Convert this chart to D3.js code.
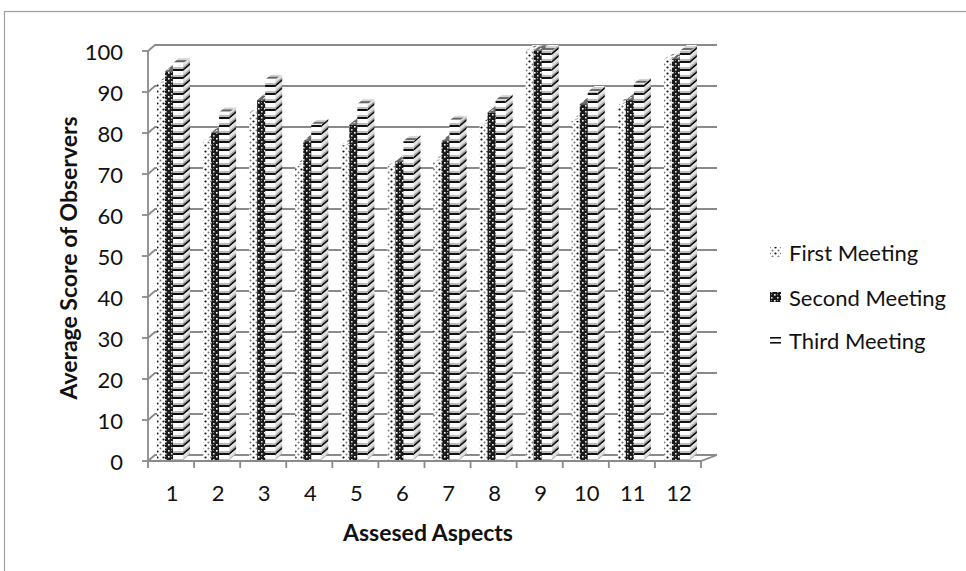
<!DOCTYPE html>
<html>
<head>
<meta charset="utf-8">
<script src="https://cdn.jsdelivr.net/npm/d3@7"></script>
<style>
  html, body { margin: 0; padding: 0; background: #fff; }
  svg { display: block; }
  text { font-family: Lato, "Open Sans", sans-serif; fill: #111; }
</style>
</head>
<body>
<svg id="chart" width="966" height="571"></svg>
<script>
// Average observer scores for each assessed aspect, per meeting
const categories = ["1", "2", "3", "4", "5", "6", "7", "8", "9", "10", "11", "12"];
const seriesNames = ["First Meeting", "Second Meeting", "Third Meeting"];
const firstMeeting  = [92, 78, 85, 72, 77, 72, 73, 82, 100, 83, 87, 98];
const secondMeeting = [95, 80, 88, 78, 82, 73, 78, 85, 100, 87, 88, 98];
const thirdMeeting  = [97, 85, 93, 82, 87, 78, 83, 88, 100, 90, 92, 100];
const yTicks = [0, 10, 20, 30, 40, 50, 60, 70, 80, 90, 100];

const seriesValues = [firstMeeting, secondMeeting, thirdMeeting];
const patternIds = ["pDots", "pCheck", "pLines"];
const legendPatternIds = ["pDots", "pCheck", "pLinesSmall"];

const svg = d3.select("#chart");
const W = 966, H = 571;

// 3D depth offsets of the plot box and of each column
const wallDX = 7, wallDY = 6;
const barDX = 7, barDY = 6;
const barW = 10;

const x = d3.scaleBand().domain(categories).range([148, 701]);
const xs = d3.scalePoint().domain(seriesNames).range([9, 25]);
const y = d3.scaleLinear().domain([0, 100]).range([461, 51]);

svg.append("rect").attr("width", W).attr("height", H).attr("fill", "#fff");

// outer chart frame
svg.append("rect")
  .attr("x", 4.5).attr("y", 11.5)
  .attr("width", W + 20).attr("height", H + 20)
  .attr("fill", "none").attr("stroke", "#a0a0a0").attr("stroke-width", 1.2);

// ---------- fill patterns ----------
const defs = svg.append("defs");

const pd = defs.append("pattern").attr("id", "pDots")
  .attr("patternUnits", "userSpaceOnUse").attr("width", 6).attr("height", 6);
pd.append("rect").attr("width", 6).attr("height", 6).attr("fill", "#fff");
pd.append("circle").attr("cx", 1.5).attr("cy", 1.5).attr("r", 1.1).attr("fill", "#111");
pd.append("circle").attr("cx", 4.5).attr("cy", 4.5).attr("r", 1.0).attr("fill", "#777");

const pc = defs.append("pattern").attr("id", "pCheck")
  .attr("patternUnits", "userSpaceOnUse").attr("width", 6).attr("height", 6);
pc.append("rect").attr("width", 6).attr("height", 6).attr("fill", "#1a1a1a");
pc.append("rect").attr("x", 0).attr("y", 0).attr("width", 1.6).attr("height", 1.6).attr("fill", "#fff");
pc.append("rect").attr("x", 3).attr("y", 3).attr("width", 1.6).attr("height", 1.6).attr("fill", "#ddd");
pc.append("rect").attr("x", 3).attr("y", 0).attr("width", 1).attr("height", 1).attr("fill", "#888");

const pl = defs.append("pattern").attr("id", "pLines")
  .attr("patternUnits", "userSpaceOnUse").attr("width", 8).attr("height", 8);
pl.append("rect").attr("width", 8).attr("height", 8).attr("fill", "#fff");
pl.append("rect").attr("y", 3).attr("width", 8).attr("height", 2).attr("fill", "#bbb");
pl.append("rect").attr("y", 5).attr("width", 8).attr("height", 2).attr("fill", "#111");

const pls = defs.append("pattern").attr("id", "pLinesSmall")
  .attr("patternUnits", "userSpaceOnUse").attr("width", 5).attr("height", 5);
pls.append("rect").attr("width", 5).attr("height", 5).attr("fill", "#fff");
pls.append("rect").attr("y", 2).attr("width", 5).attr("height", 1.6).attr("fill", "#111");

// ---------- walls, floor and gridlines ----------
const grid = svg.append("g").attr("fill", "none").attr("stroke", "#8a8a8a").attr("stroke-width", 1.8);
const wallRight = 717;

yTicks.forEach(t => {
  const yy = y(t);
  grid.append("path")
    .attr("d", `M${148},${yy} L${148 + wallDX},${yy - wallDY} L${wallRight},${yy - wallDY}`);
});

// floor outline
const yb = y(0);
grid.append("path")
  .attr("d", `M148,${yb} L${x.range()[1]},${yb} L${x.range()[1] + wallDX + 9},${yb - wallDY} L${wallRight},${yb - wallDY}`);

// vertical value axis
grid.append("line").attr("x1", 148).attr("x2", 148).attr("y1", y(100)).attr("y2", yb);

// y tick marks and labels
const yAxis = svg.append("g");
yTicks.forEach(t => {
  yAxis.append("line").attr("x1", 142).attr("x2", 148).attr("y1", y(t)).attr("y2", y(t))
    .attr("stroke", "#8a8a8a").attr("stroke-width", 1.8);
  yAxis.append("text").attr("x", 123).attr("y", y(t) + 1).attr("dy", "0.35em")
    .attr("text-anchor", "end").attr("font-size", 22).text(t);
});

// x tick marks and labels
const xAxis = svg.append("g");
const bounds = categories.map(c => x(c)).concat([x.range()[1]]);
bounds.forEach(b => {
  xAxis.append("line").attr("x1", b).attr("x2", b).attr("y1", yb).attr("y2", yb + 7)
    .attr("stroke", "#8a8a8a").attr("stroke-width", 1.8);
});
categories.forEach(c => {
  xAxis.append("text").attr("x", x(c) + x.bandwidth() / 2 + 1).attr("y", 493).attr("dy", "0.35em")
    .attr("text-anchor", "middle").attr("font-size", 22).text(c);
});

// ---------- 3D columns ----------
const bars = svg.append("g");
categories.forEach((c, i) => {
  seriesNames.forEach((s, k) => {
    const v = seriesValues[k][i];
    const x0 = x(c) + xs(s);
    const top = y(v);
    const h = yb - 1 - top;
    const pat = `url(#${patternIds[k]})`;
    const g = bars.append("g");
    // side face (slanted into depth)
    const side = g.append("g")
      .attr("transform", `translate(${x0 + barW},0) skewY(${-Math.atan(barDY / barDX) * 180 / Math.PI})`);
    side.append("rect").attr("x", 0).attr("y", top).attr("width", barDX).attr("height", h).attr("fill", pat);
    side.append("rect").attr("x", 0).attr("y", top).attr("width", barDX).attr("height", h)
      .attr("fill", "#000").attr("fill-opacity", 0.12);
    // top face
    const topFace = g.append("g")
      .attr("transform", `translate(0,${top}) skewX(${-Math.atan(barDX / barDY) * 180 / Math.PI})`);
    topFace.append("rect").attr("x", x0).attr("y", -barDY).attr("width", barW).attr("height", barDY).attr("fill", pat);
    topFace.append("rect").attr("x", x0).attr("y", -barDY).attr("width", barW).attr("height", barDY)
      .attr("fill", "#fff").attr("fill-opacity", 0.35);
    // front face
    g.append("rect").attr("x", x0).attr("y", top).attr("width", barW).attr("height", h).attr("fill", pat);
  });
});

// ---------- axis titles ----------
svg.append("text")
  .attr("transform", `translate(69,258) rotate(-90)`)
  .attr("dy", "0.35em")
  .attr("text-anchor", "middle").attr("font-size", 23).attr("font-weight", "bold")
  .text("Average Score of Observers");

svg.append("text")
  .attr("x", 428).attr("y", 533).attr("dy", "0.35em")
  .attr("text-anchor", "middle").attr("font-size", 23).attr("font-weight", "bold")
  .text("Assesed Aspects");

// ---------- legend ----------
const legendY = [252, 297, 340];
const legend = svg.append("g");
seriesNames.forEach((s, k) => {
  legend.append("rect").attr("x", 770).attr("y", legendY[k] - 5).attr("width", 11).attr("height", 10)
    .attr("fill", `url(#${legendPatternIds[k]})`);
  legend.append("text").attr("x", 789).attr("y", legendY[k] + 1).attr("dy", "0.35em")
    .attr("font-size", 22).text(s);
});
</script>
</body>
</html>
